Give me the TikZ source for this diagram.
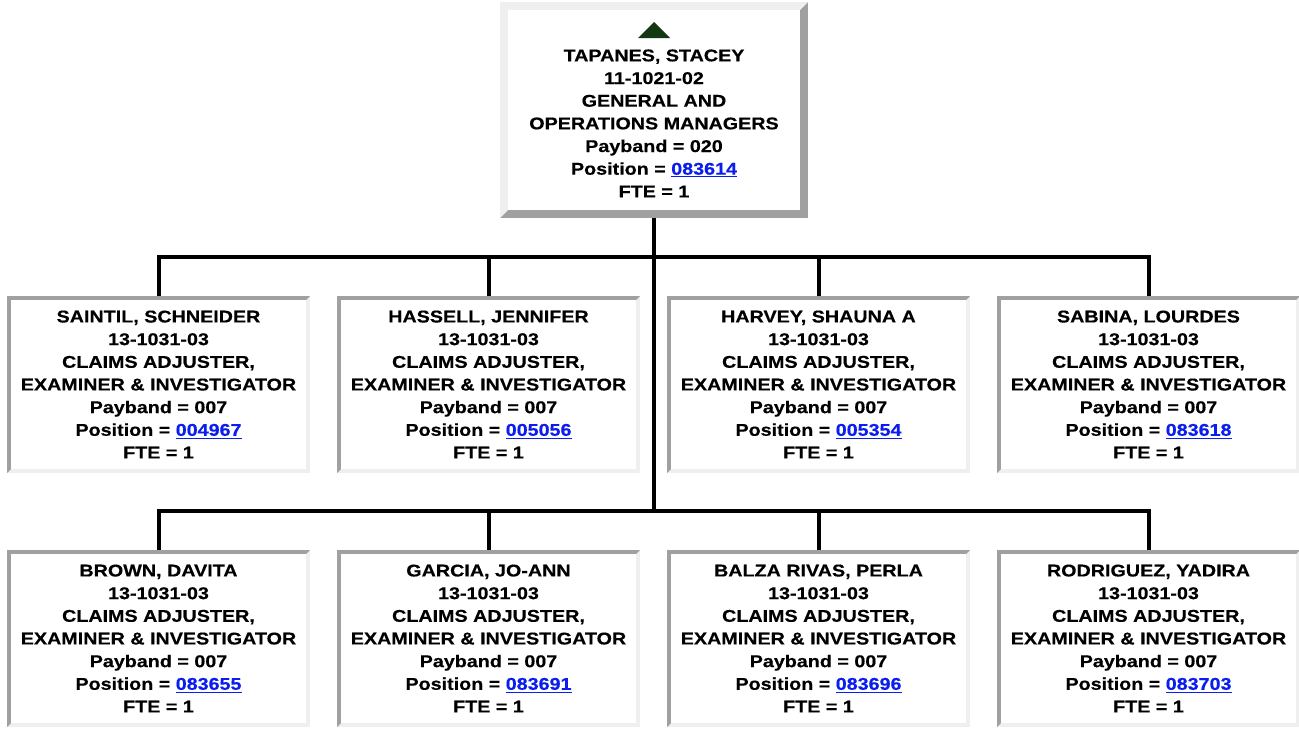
\documentclass[tikz,border=0pt]{standalone}
\usepackage{fontspec}
\usetikzlibrary{calc}
\newfontfamily\boxfont{Liberation Sans Bold}[FakeStretch=1.16,FakeBold=0.4]
\definecolor{bdark}{RGB}{160,160,160}
\definecolor{blight}{RGB}{239,239,239}
\definecolor{linkblue}{RGB}{10,30,240}
\definecolor{tridark}{RGB}{20,55,20}
\newcommand{\lnk}[1]{\textcolor{linkblue}{\underline{#1}}}
\tikzset{
  x=0.75pt, y=-0.75pt,
  boxtext/.style={align=center, inner sep=0pt, outer sep=0pt, fill=white,
    font=\boxfont\fontsize{12.75pt}{17pt}\selectfont},
  insetbox/.style={boxtext, minimum width=227.25pt, minimum height=132.75pt,
    path picture={
      \coordinate (pnw) at (path picture bounding box.north west);
      \coordinate (pse) at (path picture bounding box.south east);
      \coordinate (pne) at (pnw -| pse);
      \coordinate (psw) at (pnw |- pse);
      \fill[blight] (pnw) rectangle (pse);
      \fill[bdark] (pnw) -- (pne) -- ([shift={(-3pt,-3pt)}]pne) -- ([shift={(3pt,-3pt)}]pnw)
        -- ([shift={(3pt,3pt)}]psw) -- (psw) -- cycle;
      \fill[white] ([shift={(3pt,-3pt)}]pnw) rectangle ([shift={(-3pt,3pt)}]pse);
    }},
  outsetbox/.style={boxtext, minimum width=231pt, minimum height=162pt,
    path picture={
      \coordinate (pnw) at (path picture bounding box.north west);
      \coordinate (pse) at (path picture bounding box.south east);
      \coordinate (pne) at (pnw -| pse);
      \coordinate (psw) at (pnw |- pse);
      \fill[bdark] (pnw) rectangle (pse);
      \fill[blight] (pnw) -- (pne) -- ([shift={(-6pt,-6pt)}]pne) -- ([shift={(6pt,-6pt)}]pnw)
        -- ([shift={(6pt,6pt)}]psw) -- (psw) -- cycle;
      \fill[white] ([shift={(6pt,-6pt)}]pnw) rectangle ([shift={(-6pt,6pt)}]pse);
    }},
  conn/.style={line width=3pt, black, line join=miter},
}
\begin{document}
\begin{tikzpicture}
\useasboundingbox (0,0) rectangle (1299,729);

\node[outsetbox] (top) at (654,110) {\mbox{}\\[12pt]TAPANES, STACEY\\11-1021-02\\GENERAL AND\\OPERATIONS MANAGERS\\Payband = 020\\Position = \lnk{083614}\\FTE = 1};
\fill[tridark] ($(top.north)+(-16,36)$) -- ($(top.north)+(16,36)$) -- ($(top.north)+(0,20)$) -- cycle;

\node[insetbox] (s1) at (158.5,384.5) {SAINTIL, SCHNEIDER\\13-1031-03\\CLAIMS ADJUSTER,\\EXAMINER \& INVESTIGATOR\\Payband = 007\\Position = \lnk{004967}\\FTE = 1};
\node[insetbox] (s2) at (488.5,384.5) {HASSELL, JENNIFER\\13-1031-03\\CLAIMS ADJUSTER,\\EXAMINER \& INVESTIGATOR\\Payband = 007\\Position = \lnk{005056}\\FTE = 1};
\node[insetbox] (s3) at (818.5,384.5) {HARVEY, SHAUNA A\\13-1031-03\\CLAIMS ADJUSTER,\\EXAMINER \& INVESTIGATOR\\Payband = 007\\Position = \lnk{005354}\\FTE = 1};
\node[insetbox] (s4) at (1148.5,384.5) {SABINA, LOURDES\\13-1031-03\\CLAIMS ADJUSTER,\\EXAMINER \& INVESTIGATOR\\Payband = 007\\Position = \lnk{083618}\\FTE = 1};

\node[insetbox] (b1) at (158.5,638.5) {BROWN, DAVITA\\13-1031-03\\CLAIMS ADJUSTER,\\EXAMINER \& INVESTIGATOR\\Payband = 007\\Position = \lnk{083655}\\FTE = 1};
\node[insetbox] (b2) at (488.5,638.5) {GARCIA, JO-ANN\\13-1031-03\\CLAIMS ADJUSTER,\\EXAMINER \& INVESTIGATOR\\Payband = 007\\Position = \lnk{083691}\\FTE = 1};
\node[insetbox] (b3) at (818.5,638.5) {BALZA RIVAS, PERLA\\13-1031-03\\CLAIMS ADJUSTER,\\EXAMINER \& INVESTIGATOR\\Payband = 007\\Position = \lnk{083696}\\FTE = 1};
\node[insetbox] (b4) at (1148.5,638.5) {RODRIGUEZ, YADIRA\\13-1031-03\\CLAIMS ADJUSTER,\\EXAMINER \& INVESTIGATOR\\Payband = 007\\Position = \lnk{083703}\\FTE = 1};

\coordinate (j1) at (654,257);
\coordinate (j2) at (654,510.5);

\draw[conn] (top.south) -- (j2);
\draw[conn] (s1.north) |- (j1) -| (s4.north);
\draw[conn] (s2.north) -- (s2.north |- j1);
\draw[conn] (s3.north) -- (s3.north |- j1);
\draw[conn] (b1.north) |- (j2) -| (b4.north);
\draw[conn] (b2.north) -- (b2.north |- j2);
\draw[conn] (b3.north) -- (b3.north |- j2);
\end{tikzpicture}
\end{document}
